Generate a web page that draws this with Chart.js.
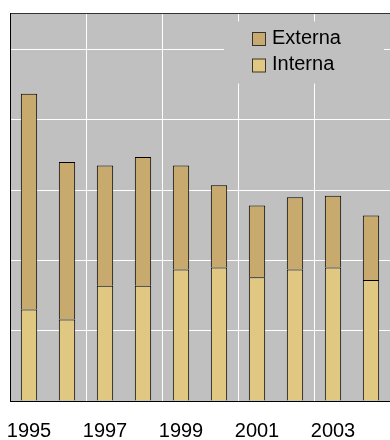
<!DOCTYPE html>
<html>
<head>
<meta charset="utf-8">
<script src="https://cdn.jsdelivr.net/npm/chart.js@4"></script>
<style>
  html, body { margin: 0; padding: 0; background: #ffffff; }
  #wrap { width: 390px; height: 440px; }
</style>
</head>
<body>
<div id="wrap"><canvas id="chart"></canvas></div>
<script>
const years = ['1995', '1996', '1997', '1998', '1999', '2000', '2001', '2002', '2003', '2004'];
const interna = [13.0, 11.6, 16.4, 16.4, 18.7, 19.0, 17.6, 18.7, 19.0, 17.2];
const externa = [30.7, 22.4, 17.1, 18.3, 14.8, 11.7, 10.2, 10.3, 10.2, 9.2];
const yMax = 55.2;
const yStep = 10;

const plotBackgroundPlugin = {
  id: 'plotBackground',
  beforeDraw(chart) {
    const { ctx, chartArea: a } = chart;
    ctx.save();
    ctx.fillStyle = '#c0c0c0';
    ctx.fillRect(a.left, a.top, a.right - a.left, a.bottom - a.top);
    ctx.restore();
  }
};

// legend sits inside the plot, top right, on its own grey box
const insideLegendPlugin = {
  id: 'insideLegend',
  afterDatasetsDraw(chart) {
    const ctx = chart.ctx;
    const a = chart.chartArea;
    const boxX = a.right - 166, boxY = a.top + 8.5;
    ctx.save();
    ctx.fillStyle = '#c0c0c0';
    ctx.fillRect(boxX, boxY, 160, 62);

    const items = chart.data.datasets.slice().reverse();
    ctx.font = '20px "Liberation Sans", Arial, sans-serif';
    ctx.textBaseline = 'alphabetic';
    items.forEach((ds, i) => {
      const sx = boxX + 28, sy = boxY + 10.5 + i * 26.5;
      ctx.fillStyle = ds.backgroundColor;
      ctx.fillRect(sx, sy, 14, 14);
      ctx.strokeStyle = '#333333';
      ctx.lineWidth = 1;
      ctx.strokeRect(sx + 0.5, sy + 0.5, 13, 13);
      ctx.fillStyle = '#000000';
      ctx.fillText(ds.label, sx + 20, sy + 11.5);
    });
    ctx.restore();
  }
};

new Chart(document.getElementById('chart'), {
  type: 'bar',
  data: {
    labels: years,
    datasets: [
      {
        label: 'Interna',
        data: interna,
        backgroundColor: '#e0c882',
        borderColor: '#000000',
        borderWidth: 1,
        barPercentage: 0.43,
        categoryPercentage: 1
      },
      {
        label: 'Externa',
        data: externa,
        backgroundColor: '#c8aa6e',
        borderColor: '#000000',
        borderWidth: 1,
        barPercentage: 0.43,
        categoryPercentage: 1
      }
    ]
  },
  options: {
    responsive: true,
    maintainAspectRatio: false,
    animation: false,
    layout: { padding: { top: 13, left: 10, right: 0, bottom: 0 } },
    plugins: {
      legend: { display: false },
      tooltip: { enabled: false }
    },
    scales: {
      x: {
        stacked: true,
        afterFit: scale => {
          // labels may hang over the edges, the plot keeps its width
          scale.paddingLeft = 0;
          scale.paddingRight = 0;
          scale.height = 39;
        },
        grid: {
          offset: true,
          drawTicks: false,
          lineWidth: 1,
          color: ctx => (ctx.index && ctx.index % 2 === 0 && ctx.index < years.length) ? '#ffffff' : 'rgba(0,0,0,0)'
        },
        border: { display: true, color: '#000000', width: 1 },
        ticks: {
          color: '#000000',
          padding: 22,
          font: { family: '"Liberation Sans", Arial, sans-serif', size: 20, lineHeight: 0.85 },
          autoSkip: false,
          maxRotation: 0,
          callback: function(value, index) {
            return index % 2 === 0 ? this.getLabelForValue(value) : '';
          }
        }
      },
      y: {
        stacked: true,
        min: 0,
        max: yMax,
        grid: {
          drawTicks: false,
          lineWidth: 1,
          color: ctx => ctx.tick && ctx.tick.value === yMax ? '#333333' : '#ffffff'
        },
        border: { display: true, color: '#000000', width: 1 },
        ticks: { display: false, stepSize: yStep }
      }
    }
  },
  plugins: [plotBackgroundPlugin, insideLegendPlugin]
});
</script>
</body>
</html>
